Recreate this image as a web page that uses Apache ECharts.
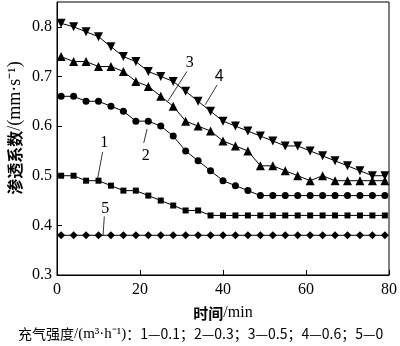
<!DOCTYPE html>
<html><head><meta charset="utf-8">
<script src="https://cdn.jsdelivr.net/npm/echarts@6/dist/echarts.min.js"></script>
<style>html,body{margin:0;padding:0;background:#fff}#c{width:400px;height:346px}</style>
</head><body><div id="c"></div>
<script>
const times = [1,4,7,10,13,16,19,22,25,28,31,34,37,40,43,46,49,52,55,58,61,64,67,70,73,76,79];
const s1 = [0.50,0.50,0.49,0.49,0.48,0.47,0.47,0.46,0.45,0.44,0.43,0.43,0.42,0.42,0.42,0.42,0.42,0.42,0.42,0.42,0.42,0.42,0.42,0.42,0.42,0.42,0.42];
const s2 = [0.66,0.66,0.65,0.65,0.64,0.63,0.61,0.61,0.60,0.58,0.55,0.53,0.51,0.49,0.48,0.47,0.46,0.46,0.46,0.46,0.46,0.46,0.46,0.46,0.46,0.46,0.46];
const s3 = [0.74,0.73,0.73,0.72,0.72,0.71,0.69,0.68,0.66,0.64,0.61,0.60,0.59,0.57,0.56,0.55,0.52,0.52,0.51,0.50,0.49,0.50,0.49,0.49,0.49,0.49,0.49];
const s4 = [0.807,0.80,0.79,0.78,0.76,0.74,0.73,0.71,0.70,0.69,0.67,0.65,0.63,0.61,0.60,0.59,0.58,0.57,0.56,0.56,0.55,0.54,0.53,0.52,0.51,0.50,0.50];
const s5 = [0.38,0.38,0.38,0.38,0.38,0.38,0.38,0.38,0.38,0.38,0.38,0.38,0.38,0.38,0.38,0.38,0.38,0.38,0.38,0.38,0.38,0.38,0.38,0.38,0.38,0.38,0.38];
const seriesNames = ['1','2','3','4','5'];
const xTicks = [0,20,40,60,80];
const yTicks = [0.3,0.4,0.5,0.6,0.7,0.8];
// annotation label positions and leader lines (data coordinates)
const annotText = [[11.4,0.566],[21.4,0.540],[32.0,0.727],[39.1,0.700],[11.6,0.434]];
const annotLineFrom = [[11.0,0.548],[21.7,0.594],[31.3,0.710],[38.6,0.683],[11.4,0.418]];
const annotLineTo = [[9.8,0.495],[20.9,0.566],[26.7,0.650],[35.7,0.643],[11.1,0.380]];

const chart = echarts.init(document.getElementById('c'), null, {renderer:'canvas'});
const serif = 'Liberation Serif';
const cjk = 'Noto Sans CJK SC';
function mk(data, symbol, size, rotate){
  return {
    type:'line', data: times.map((t,i)=>[t,data[i]]), symbol, symbolSize:size, symbolRotate: rotate||0,
    lineStyle:{color:'#000', width:1}, itemStyle:{color:'#000'}, animation:false, silent:true
  };
}
chart.setOption({
  animation:false,
  backgroundColor:'#fff',
  grid:{left:57, right:7, top:2, bottom:71, show:true, borderColor:'#000', borderWidth:1},
  xAxis:{type:'value', min:0, max:80, interval:20,
    axisLine:{lineStyle:{color:'#000', width:1}},
    axisTick:{inside:true, length:5, lineStyle:{color:'#000'}},
    axisLabel:{color:'#000', fontFamily:serif, fontSize:16, margin:7, formatter: v => xTicks.includes(v) ? String(v) : ''},
    splitLine:{show:false},
    name:'{cn|时间}{en|/min}', nameLocation:'middle', nameGap:30,
    nameTextStyle:{rich:{cn:{fontFamily:cjk, fontWeight:'bold', fontSize:15, color:'#000'}, en:{fontFamily:serif, fontSize:16, color:'#000'}}}
  },
  yAxis:{type:'value', min:0.3, max:0.85, interval:0.1,
    axisLine:{lineStyle:{color:'#000', width:1}},
    axisTick:{inside:true, length:5, lineStyle:{color:'#000'}},
    axisLabel:{color:'#000', fontFamily:serif, fontSize:16, margin:5, showMaxLabel:false,
      formatter: v => { const f = yTicks.find(t => Math.abs(t-v)<1e-6); return f!==undefined ? f.toFixed(1) : ''; }},
    splitLine:{show:false}
  },
  series:[
    mk(s1,'rect',6),
    mk(s2,'circle',7),
    mk(s3,'triangle',9),
    mk(s4,'triangle',9,180),
    mk(s5,'diamond',8)
  ]
});

const g = [];
annotText.forEach((p,i)=>{
  const a = chart.convertToPixel({gridIndex:0}, annotLineFrom[i]);
  const b = chart.convertToPixel({gridIndex:0}, annotLineTo[i]);
  g.push({type:'line', shape:{x1:a[0],y1:a[1],x2:b[0],y2:b[1]}, style:{stroke:'#000', lineWidth:0.8}, silent:true});
  const t = chart.convertToPixel({gridIndex:0}, p);
  g.push({type:'text', x:t[0], y:t[1], style:{text:seriesNames[i], fontFamily: i===3 ? 'Liberation Sans' : serif, fontSize:16, fill:'#000', align:'center', verticalAlign:'middle'}, silent:true});
});
g.push({type:'text', x:15, y:128, rotation:Math.PI/2,
  style:{text:'{cn|渗透系数}{en|/(mm·s⁻¹)}', align:'center', verticalAlign:'middle',
    rich:{cn:{fontFamily:cjk, fontWeight:'bold', fontSize:16, fill:'#000'}, en:{fontFamily:serif, fontSize:18, fill:'#000'}}}, silent:true});
g.push({type:'text', x:18, y:334,
  style:{text:'{cn|充气强度}{en|/(m³·h⁻¹)}{cn|：1—0.1；2—0.3；3—0.5；4—0.6；5—0}', align:'left', verticalAlign:'middle',
    rich:{cn:{fontFamily:cjk, fontSize:14, fill:'#000'}, en:{fontFamily:serif, fontSize:15, fill:'#000'}}}, silent:true});
chart.setOption({graphic:g});
</script></body></html>
